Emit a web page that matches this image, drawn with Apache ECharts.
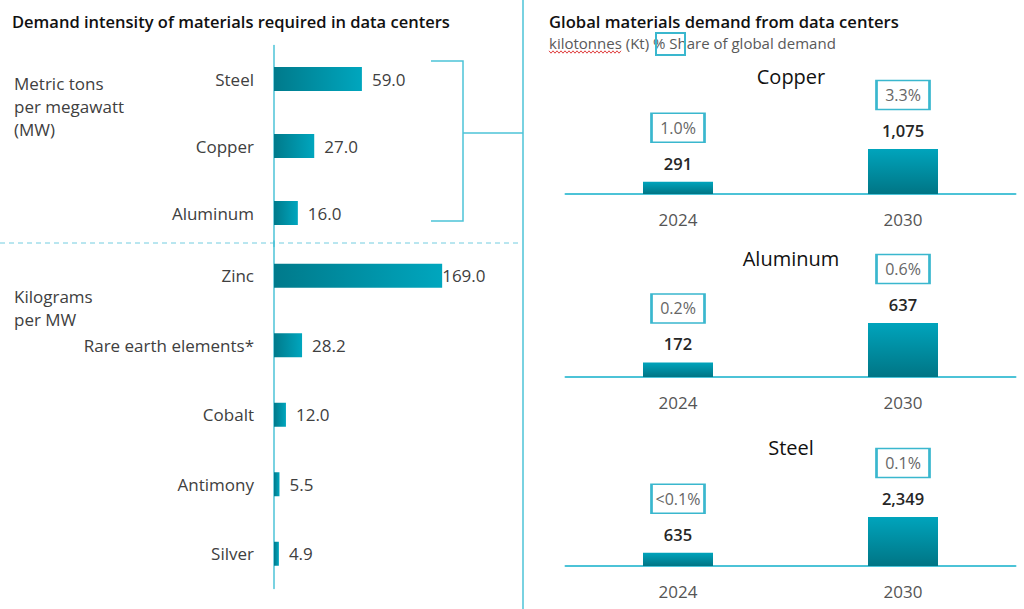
<!DOCTYPE html>
<html><head><meta charset="utf-8">
<script src="https://cdn.jsdelivr.net/npm/echarts@6/dist/echarts.min.js"></script>
<style>html,body{margin:0;padding:0;background:#fff}#c{width:1024px;height:609px}</style>
</head><body><div id="c"></div>
<script>
// ---- data ----
const tonCategories = ['Steel', 'Copper', 'Aluminum'];
const tonValues = [59.0, 27.0, 16.0];
const kgCategories = ['Zinc', 'Rare earth elements*', 'Cobalt', 'Antimony', 'Silver'];
const kgValues = [169.0, 28.2, 12.0, 5.5, 4.9];
const years = ['2024', '2030'];
const copperKt = [291, 1075];
const copperShare = ['1.0%', '3.3%'];
const aluminumKt = [172, 637];
const aluminumShare = ['0.2%', '0.6%'];
const steelKt = [635, 2349];
const steelShare = ['<0.1%', '0.1%'];

// ---- styles ----
const FONT = 'Open Sans';
const TEAL = '#4cc3d7';
const hGrad = {type:'linear', x:0, y:0, x2:1, y2:0, colorStops:[{offset:0,color:'#007a8b'},{offset:1,color:'#00a6be'}]};
const vGrad = {type:'linear', x:0, y:0, x2:0, y2:1, colorStops:[{offset:0,color:'#00a4bc'},{offset:1,color:'#007585'}]};

const chart = echarts.init(document.getElementById('c'), null, {renderer:'svg'});

function leftY(idx, cats) {
  return {type:'category', gridIndex:idx, data:cats, inverse:true,
    axisLine:{show:true, lineStyle:{color:TEAL, width:1.5}}, axisTick:{show:false},
    axisLabel:{color:'#404040', fontSize:17, fontFamily:FONT, margin:20}};
}
function leftX(idx, max) {
  return {type:'value', gridIndex:idx, min:0, max:max, show:false, splitLine:{show:false}};
}
function leftSeries(idx, vals, firstDist) {
  return {type:'bar', xAxisIndex:idx, yAxisIndex:idx, barWidth:24,
    data: vals.map((v,i) => (i===0 && firstDist!==undefined) ? {value:v, label:{distance:firstDist}} : v),
    itemStyle:{color:hGrad},
    label:{show:true, position:'right', distance:10, color:'#404040', fontSize:17, fontFamily:FONT,
      formatter: p => p.value.toFixed(1)}};
}
function miniX(idx) {
  return {type:'category', gridIndex:idx, data:years,
    axisLine:{show:true, lineStyle:{color:TEAL, width:2}}, axisTick:{show:false},
    axisLabel:{color:'#555', fontSize:17, fontFamily:FONT, margin:17}};
}
function miniY(idx, max) {
  return {type:'value', gridIndex:idx, min:0, max:max, show:false, splitLine:{show:false}};
}
function miniSeries(idx, vals, shares) {
  return {type:'bar', xAxisIndex:idx, yAxisIndex:idx, barWidth:70, data:vals,
    itemStyle:{color:vGrad},
    label:{show:true, position:'top', distance:10, color:'#262626', fontSize:16.5, fontWeight:600, fontFamily:FONT,
      formatter: p => p.value.toLocaleString('en-US')},
    markPoint:{symbol:'rect', symbolSize:[53,29], symbolOffset:[0,-54], silent:true,
      itemStyle:{color:'#fff', borderColor:'#3ab7ce', borderWidth:2},
      label:{show:true, position:'inside', color:'#666', fontSize:16, fontFamily:FONT, formatter: p => p.name},
      data: vals.map((v,i) => ({name:shares[i], coord:[years[i], v]}))}};
}

// decorative squiggle under "kilotonnes"
const squiggle = [];
for (let x = 549, i = 0; x <= 622; x += 2, i++) squiggle.push([x, 52 + (i % 2 ? 1.2 : -1.2)]);

const option = {
  backgroundColor:'#fff',
  animation:false,
  textStyle:{fontFamily:FONT},
  grid:[
    {left:274, width:149, top:45.5, height:201},
    {left:274, width:199, top:241, height:347.5},
    {left:565.5, right:8.5, top:194-104.65, height:104.65},
    {left:565.5, right:8.5, top:377-84.8, height:84.8},
    {left:565.5, right:8.5, top:566-83.4, height:83.4}
  ],
  xAxis:[leftX(0,100), leftX(1,200), miniX(2), miniX(3), miniX(4)],
  yAxis:[leftY(0,tonCategories), leftY(1,kgCategories), miniY(2,2500), miniY(3,1000), miniY(4,4000)],
  series:[
    leftSeries(0, tonValues),
    leftSeries(1, kgValues, 0),
    miniSeries(2, copperKt, copperShare),
    miniSeries(3, aluminumKt, aluminumShare),
    miniSeries(4, steelKt, steelShare)
  ],
  graphic:[
    {type:'line', shape:{x1:523,y1:0,x2:523,y2:609}, style:{stroke:TEAL, lineWidth:1.5}},
    {type:'line', shape:{x1:0,y1:243,x2:522,y2:243}, style:{stroke:'#72cde0', lineWidth:1, lineDash:[5,4]}},
    {type:'polyline', shape:{points:[[431,61],[463,61],[463,221],[431,221]]}, style:{stroke:TEAL, lineWidth:1.5, fill:null}},
    {type:'line', shape:{x1:463,y1:133,x2:523,y2:133}, style:{stroke:TEAL, lineWidth:1.5}},
    {type:'text', x:12, y:21, style:{text:'Demand intensity of materials required in data centers', fill:'#111', fontSize:16.5, fontWeight:600, fontFamily:FONT, verticalAlign:'middle'}},
    {type:'text', x:14, y:72, style:{text:'Metric tons\nper megawatt\n(MW)', fill:'#404040', fontSize:17, lineHeight:23, fontFamily:FONT, verticalAlign:'top'}},
    {type:'text', x:14, y:285, style:{text:'Kilograms\nper MW', fill:'#404040', fontSize:17, lineHeight:23, fontFamily:FONT, verticalAlign:'top'}},
    {type:'text', x:549, y:21, style:{text:'Global materials demand from data centers', fill:'#111', fontSize:16.6, fontWeight:600, fontFamily:FONT, verticalAlign:'middle'}},
    {type:'text', x:549, y:43, style:{text:'kilotonnes (Kt) % Share of global demand', fill:'#595959', fontSize:15, fontFamily:FONT, verticalAlign:'middle'}},
    {type:'polyline', shape:{points:squiggle}, style:{stroke:'#e04040', lineWidth:1, fill:null}},
    {type:'rect', shape:{x:656,y:33,width:29,height:22}, style:{stroke:'#3ab7ce', lineWidth:2, fill:null}},
    {type:'text', x:791, y:76, style:{text:'Copper', fill:'#111', fontSize:20, fontFamily:FONT, align:'center', verticalAlign:'middle'}},
    {type:'text', x:791, y:258, style:{text:'Aluminum', fill:'#111', fontSize:20, fontFamily:FONT, align:'center', verticalAlign:'middle'}},
    {type:'text', x:791, y:447, style:{text:'Steel', fill:'#111', fontSize:20, fontFamily:FONT, align:'center', verticalAlign:'middle'}}
  ]
};
chart.setOption(option);
</script></body></html>
